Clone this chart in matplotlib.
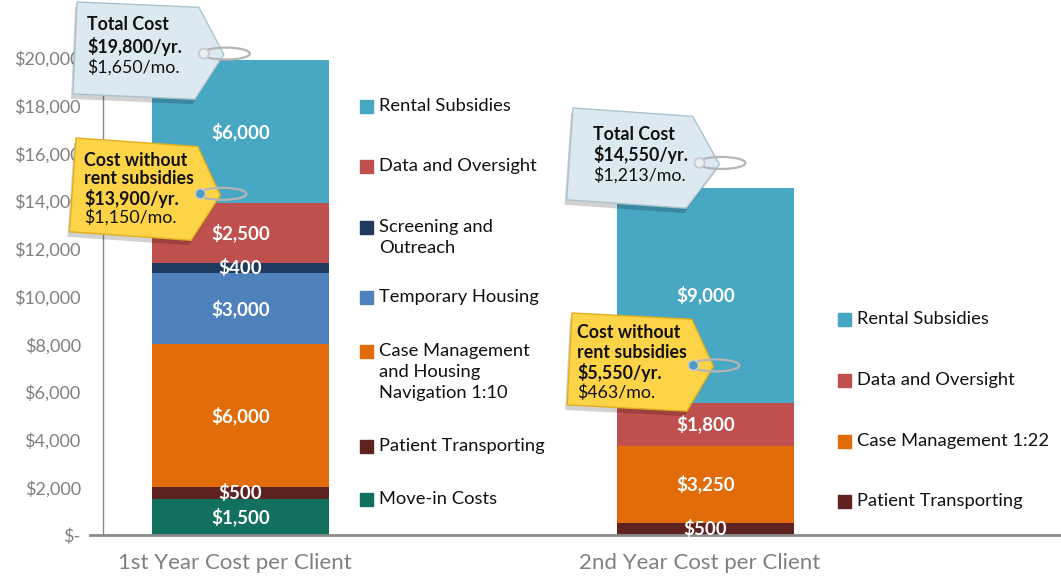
import numpy as np
import matplotlib
matplotlib.use('Agg')
import matplotlib.pyplot as plt
from matplotlib.patches import Polygon, Rectangle, Ellipse, Circle

plt.rcParams['font.family'] = ['Lato', 'DejaVu Sans']

# data
years = ['1st Year Cost per Client', '2nd Year Cost per Client']

y1_parts = ['Move-in Costs', 'Patient Transporting',
            'Case Management\nand Housing\nNavigation 1:10',
            'Temporary Housing', 'Screening and\nOutreach',
            'Data and Oversight', 'Rental Subsidies']
y1_values = [1500, 500, 6000, 3000, 400, 2500, 6000]
y1_colors = ['#11705e', '#5e2321', '#e26b0a', '#4f81bd', '#1f3a5f', '#c0504d', '#48a8c4']

y2_parts = ['Patient Transporting', 'Case Management 1:22',
            'Data and Oversight', 'Rental Subsidies']
y2_values = [500, 3250, 1800, 9000]
y2_colors = ['#5e2321', '#e26b0a', '#c0504d', '#48a8c4']

yticks = np.arange(0, 20001, 2000)

tag_lines = [
    ['Total Cost', '$19,800/yr.', '$1,650/mo.'],
    ['Cost without', 'rent subsidies', '$13,900/yr.', '$1,150/mo.'],
    ['Total Cost', '$14,550/yr.', '$1,213/mo.'],
    ['Cost without', 'rent subsidies', '$5,550/yr.', '$463/mo.'],
]

W, H = 1061, 577
fig = plt.figure(figsize=(W / 100, H / 100), dpi=100)

# main axes, pixel layout: x from 90 to 1061, y baseline at 535, $20,000 at 58
ax = fig.add_axes([90 / W, (H - 535) / H, (W - 90) / W, (535 - 58) / H])
ax.set_xlim((90 - 240.5) / 465, (W - 240.5) / 465)
ax.set_ylim(0, 20000)
bar_w = 177 / 465

for i, (vals, cols) in enumerate([(y1_values, y1_colors), (y2_values, y2_colors)]):
    bottoms = np.concatenate([[0], np.cumsum(vals)[:-1]])
    ax.bar([i] * len(vals), vals, bottom=bottoms, width=bar_w, color=cols, zorder=2)
    for b, v in zip(bottoms, vals):
        ax.text(i, b + v / 2, f'${v:,}', ha='center', va='center', color='white',
                fontsize=13.5, fontweight='bold', zorder=3)

for s in ['top', 'right']:
    ax.spines[s].set_visible(False)
ax.spines['left'].set_position(('axes', 13 / (W - 90)))
ax.spines['left'].set_color('#8a8a8a')
ax.spines['left'].set_linewidth(1.0)
ax.spines['bottom'].set_color('#8a8a8a')
ax.spines['bottom'].set_linewidth(2.0)

ax.set_yticks(yticks)
ax.set_yticklabels(['$-' if t == 0 else f'${t:,}' for t in yticks])
ax.tick_params(axis='y', length=0, pad=16, labelsize=13, labelcolor='#808080')
ax.set_xticks([-0.013, 0.987])
ax.set_xticklabels(years)
ax.tick_params(axis='x', length=0, pad=13, labelsize=16, labelcolor='#808080')

# overlay in pixel coords for legends and tags
ov = fig.add_axes([0, 0, 1, 1], zorder=5)
ov.set_xlim(0, W)
ov.set_ylim(H, 0)
ov.axis('off')
ov.patch.set_alpha(0)


def legend(x, ys, labels, colors):
    for y, lab, c in zip(ys, labels, colors):
        ov.add_patch(Rectangle((x, y - 6), 13, 13, color=c))
        ov.text(x + 19, y - 8, lab, ha='left', va='top', fontsize=13.2,
                color='#111111', linespacing=1.4)


legend(360, [499, 446, 351, 297, 227, 166, 106], y1_parts, y1_colors)
legend(838, [501, 441, 380, 319], y2_parts, y2_colors)


def tag(x, y, w, h, p, ang, fill, edge, hole, lines, tx, ty, dy):
    a = np.radians(ang)
    pts = np.array([[0, 0], [w, 0], [w + p, h / 2], [w, h], [0, h]])
    rot = np.array([[np.cos(a), -np.sin(a)], [np.sin(a), np.cos(a)]])
    pts = pts @ rot.T + [x, y]
    ov.add_patch(Polygon(pts + [-2, 5], closed=True, color='#000000', alpha=0.18, lw=0))
    ov.add_patch(Polygon(pts, closed=True, facecolor=fill, edgecolor=edge, lw=1.0))
    hx, hy = np.array([w + p - 20, h / 2]) @ rot.T + [x, y]
    ov.add_patch(Ellipse((hx + 22, hy), 48, 12, fill=False, edgecolor='#b5b5b5', lw=1.6))
    ov.add_patch(Circle((hx, hy), 5, facecolor=hole, edgecolor='#c8c8c8', lw=1.2))
    n_bold = len(lines) - 1
    for k, line in enumerate(lines):
        ov.text(tx, ty + k * dy, line, ha='left', va='center', fontsize=12.8,
                fontweight='bold' if k < n_bold else 'normal', color='#111111')


tag(77, 2, 122, 92, 27, 2.5, '#dce9f0', '#aac3cf', '#e8f0f4', tag_lines[0], 87, 25, 21)
tag(76, 138, 122, 94, 26, 4.0, '#fdd447', '#e3ae1e', '#4a9cc0', tag_lines[1], 84, 160, 19)
tag(573, 108, 120, 92, 30, 4.0, '#dce9f0', '#aac3cf', '#e8f0f4', tag_lines[2], 593, 135, 20)
tag(572, 313, 120, 92, 24, 3.0, '#fdd447', '#e3ae1e', '#4a9cc0', tag_lines[3], 577, 333, 20)

fig.savefig('out.png', dpi=100)
